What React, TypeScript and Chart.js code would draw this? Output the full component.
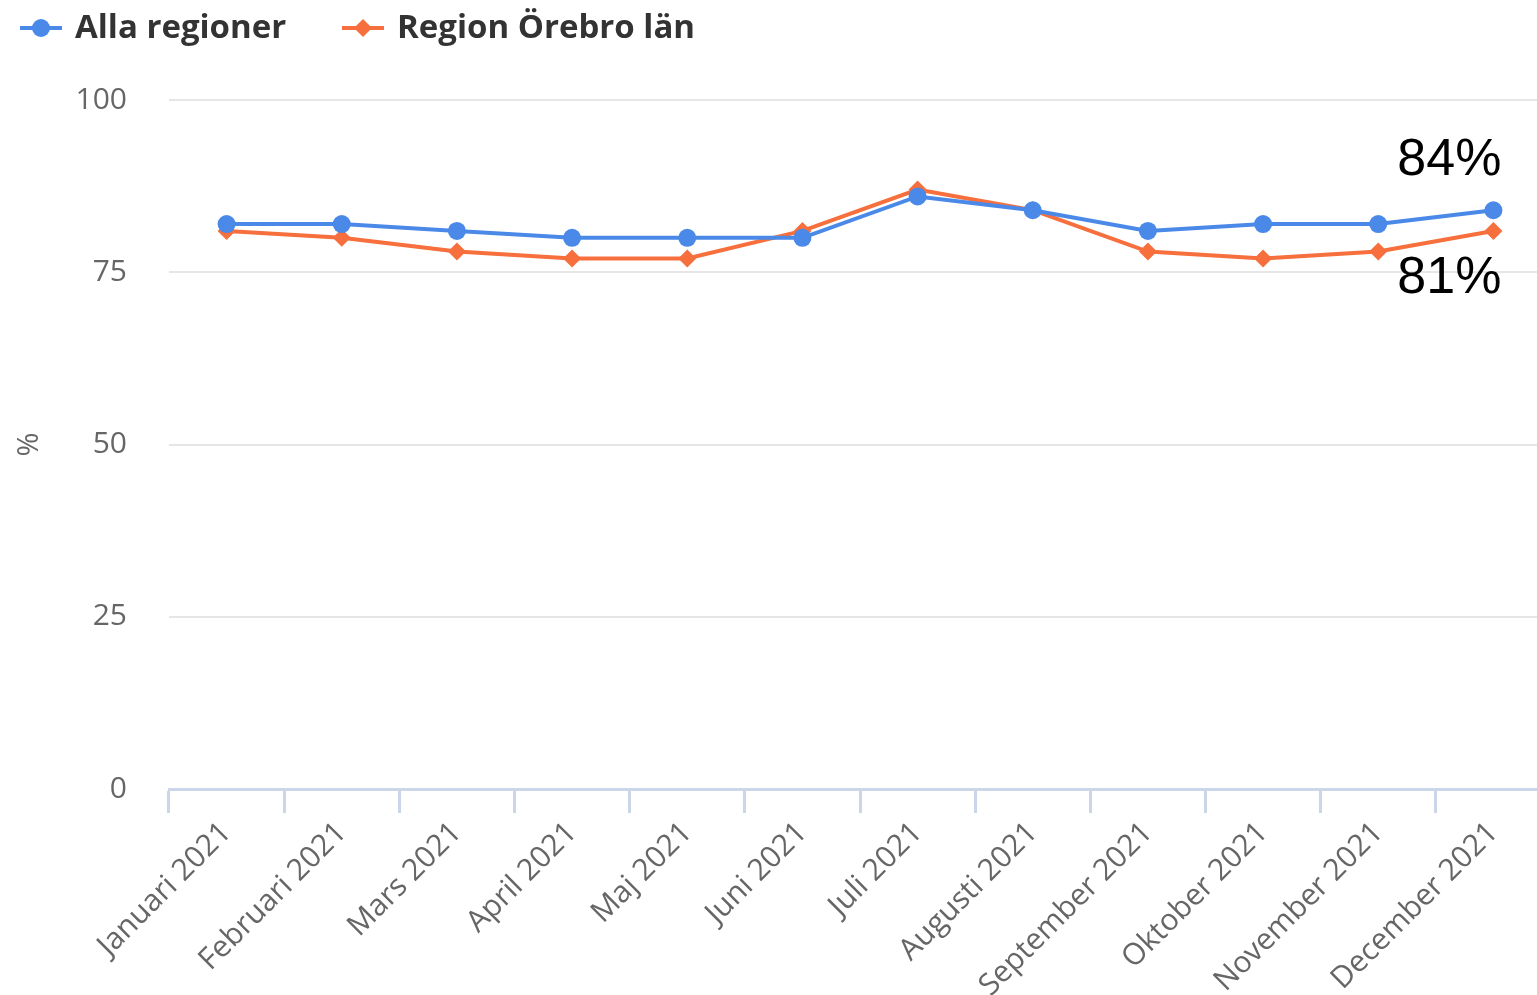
import React, { useEffect, useRef } from "react";
import { Chart, registerables } from "chart.js";

Chart.register(...registerables);

const months = [
  "Januari 2021",
  "Februari 2021",
  "Mars 2021",
  "April 2021",
  "Maj 2021",
  "Juni 2021",
  "Juli 2021",
  "Augusti 2021",
  "September 2021",
  "Oktober 2021",
  "November 2021",
  "December 2021",
];
const allaRegioner = [82, 82, 81, 80, 80, 80, 86, 84, 81, 82, 82, 84];
const regionOrebro = [81, 80, 78, 77, 77, 81, 87, 84, 78, 77, 78, 81];
const seriesNames = ["Alla regioner", "Region Örebro län"];
const yMin = 0;
const yMax = 100;
const yStep = 25;
const yTitle = "%";

const BLUE = "#4a89e8";
const ORANGE = "#f76f3c";
const FONT = "'Open Sans', 'DejaVu Sans', sans-serif";

const overlayPlugin = {
  id: "overlay",
  afterDraw(chart: any) {
    const ctx = chart.ctx;
    ctx.save();
    // legend
    const items = [
      { x: 20, color: BLUE, shape: "circle", label: seriesNames[0] },
      { x: 342, color: ORANGE, shape: "diamond", label: seriesNames[1] },
    ];
    const ly = 28;
    items.forEach((it) => {
      ctx.strokeStyle = it.color;
      ctx.lineWidth = 4;
      ctx.beginPath();
      ctx.moveTo(it.x, ly);
      ctx.lineTo(it.x + 42, ly);
      ctx.stroke();
      ctx.fillStyle = it.color;
      ctx.beginPath();
      const cx = it.x + 21;
      if (it.shape === "circle") {
        ctx.arc(cx, ly, 9, 0, Math.PI * 2);
      } else {
        ctx.moveTo(cx, ly - 9);
        ctx.lineTo(cx + 9, ly);
        ctx.lineTo(cx, ly + 9);
        ctx.lineTo(cx - 9, ly);
        ctx.closePath();
      }
      ctx.fill();
      ctx.fillStyle = "#333333";
      ctx.font = `bold 33px ${FONT}`;
      ctx.textAlign = "left";
      ctx.textBaseline = "middle";
      ctx.fillText(it.label, it.x + 55, ly + 1);
    });
    // end annotations
    ctx.fillStyle = "#000000";
    ctx.font = `52px 'Liberation Sans', Arial, sans-serif`;
    ctx.textAlign = "right";
    ctx.textBaseline = "alphabetic";
    const m0 = chart.getDatasetMeta(0);
    const m1 = chart.getDatasetMeta(1);
    const last = months.length - 1;
    const p0 = m0.data[last];
    const p1 = m1.data[last];
    ctx.fillText(`${allaRegioner[last]}%`, p0.x + 8, p0.y - 35);
    ctx.fillText(`${regionOrebro[last]}%`, p1.x + 8, p1.y + 62);
    ctx.restore();
  },
};

export default function App() {
  const ref = useRef<HTMLCanvasElement | null>(null);
  useEffect(() => {
    if (!ref.current) return;
    const chart = new Chart(ref.current, {
      type: "line",
      data: {
        labels: months,
        datasets: [
          {
            label: seriesNames[0],
            data: allaRegioner,
            borderColor: BLUE,
            backgroundColor: BLUE,
            borderWidth: 4,
            pointStyle: "circle",
            pointRadius: 9,
            pointBorderWidth: 0,
            tension: 0,
          },
          {
            label: seriesNames[1],
            data: regionOrebro,
            borderColor: ORANGE,
            backgroundColor: ORANGE,
            borderWidth: 4,
            pointStyle: "rectRot",
            pointRadius: 9,
            pointBorderWidth: 0,
            tension: 0,
          },
        ],
      },
      options: {
        responsive: false,
        animation: false,
        devicePixelRatio: 1,
        layout: { padding: { top: 100, right: 8, left: 0, bottom: 0 } },
        plugins: {
          legend: { display: false },
          tooltip: { enabled: false },
        },
        scales: {
          x: {
            offset: true,
            grid: {
              display: true,
              drawOnChartArea: false,
              drawTicks: true,
              tickLength: 24,
              tickColor: "#ccd6eb",
              tickWidth: 3,
              offset: true,
            },
            border: { display: true, color: "#ccd6eb", width: 3 },
            ticks: {
              color: "#666666",
              font: { family: FONT, size: 30 },
              minRotation: 45,
              maxRotation: 45,
              autoSkip: false,
              padding: 2,
            },
            afterFit: (s: any) => {
              s.height = 206;
            },
          },
          y: {
            min: yMin,
            max: yMax,
            ticks: {
              stepSize: yStep,
              padding: 42,
              color: "#666666",
              font: { family: FONT, size: 30 },
            },
            grid: { color: "#e6e6e6", lineWidth: 2, drawTicks: false },
            border: { display: false },
            title: {
              display: true,
              text: yTitle,
              color: "#666666",
              font: { family: FONT, size: 29 },
              padding: { top: 12, bottom: 0 },
            },
            afterFit: (s: any) => {
              s.width = 169;
            },
          },
        },
      },
      plugins: [overlayPlugin],
    });
    return () => chart.destroy();
  }, []);
  return (
    <div
      style={{
        position: "fixed",
        left: 0,
        top: 0,
        width: 1537,
        height: 995,
        overflow: "hidden",
        background: "#fff",
      }}
    >
      <canvas ref={ref} width={1560} height={995} style={{ width: 1560, height: 995, display: "block" }} />
    </div>
  );
}
